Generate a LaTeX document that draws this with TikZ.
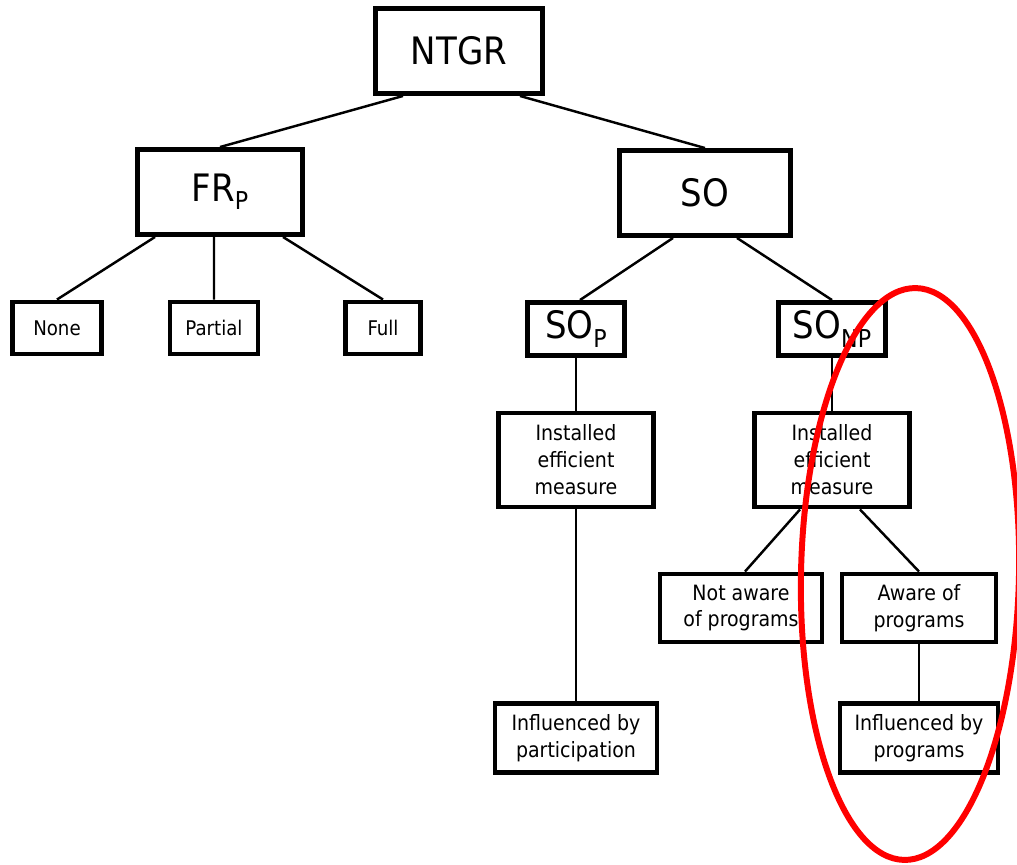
\documentclass[tikz,border=0pt]{standalone}
\usepackage{fontspec}
\setmainfont{DejaVu Sans Condensed}
\newcommand{\lowsub}[1]{\raisebox{-4.8pt}{\fontsize{14}{14}\selectfont #1}}

\begin{document}
\begin{tikzpicture}[line width=1.4pt, every node/.style={rectangle, draw, line width=2.8pt, align=center, inner sep=0pt},
	bigbox/.style={minimum height=1.70cm, font=\fontsize{21.5}{24}\selectfont},
	leafbox/.style={minimum height=1.04cm, font=\fontsize{11.5}{14}\selectfont},
	textbox/.style={font=\fontsize{12}{15.3}\selectfont}]
	\useasboundingbox (0,0) rectangle (20.34,-17.28);
	
	\node (1) at (9.18,-1.02) [bigbox, minimum width=3.34cm]{NTGR};
	\node (2) at (4.40,-3.84) [bigbox, minimum width=3.30cm]{FR\lowsub{P}};
	\node (3) at (14.10,-3.86) [bigbox, minimum width=3.42cm]{SO};
	\node (4) at (1.14,-6.56) [leafbox, minimum width=1.78cm]{None};
	\node (5) at (4.28,-6.56) [leafbox, minimum width=1.76cm]{Partial};
	\node (6) at (7.66,-6.56) [leafbox, minimum width=1.50cm]{Full};
	\node (7) at (11.52,-6.58) [bigbox, minimum height=1.06cm, minimum width=1.94cm]{SO\lowsub{P}};
	\node (8) at (16.64,-6.58) [bigbox, minimum height=1.06cm, minimum width=2.14cm]{SO\lowsub{NP}};
	\node (9) at (11.52,-9.20) [textbox, minimum width=3.10cm, minimum height=1.88cm]{Installed\\efficient\\measure};
	\node (10) at (16.64,-9.20) [textbox, minimum width=3.10cm, minimum height=1.88cm]{Installed\\efficient\\measure};
	\node (11) at (14.82,-12.16) [textbox, minimum width=3.24cm, minimum height=1.36cm]{Not aware\\of programs};
	\node (12) at (18.38,-12.16) [textbox, minimum width=3.08cm, minimum height=1.36cm]{Aware of\\programs};
	\node (13) at (11.52,-14.76) [textbox, minimum width=3.24cm, minimum height=1.38cm]{Influenced by\\participation};
	\node (14) at (18.38,-14.76) [textbox, minimum width=3.16cm, minimum height=1.38cm]{Influenced by\\programs};
	
	\draw ([xshift=-1.12cm]1.south) -- (2.north);
	\draw ([xshift=1.22cm]1.south) -- (3.north);
	\draw ([xshift=-1.30cm]2.south) -- (4.north);
	\draw ([xshift=-0.12cm]2.south) -- (5.north);
	\draw ([xshift=1.26cm]2.south) -- (6.north);
	\draw ([xshift=-0.64cm]3.south) -- ([xshift=0.08cm]7.north);
	\draw ([xshift=0.64cm]3.south) -- (8.north);
	\draw (7) -- (9);
	\draw (8) -- (10);
	\draw (9) -- (13);
	\draw ([xshift=-0.64cm]10.south) -- ([xshift=0.08cm]11.north);
	\draw ([xshift=0.56cm]10.south) -- (12.north);
	\draw (12) -- (14);
	
	% highlight
	\draw [red, line width=3.4pt, rotate around={-1.2:(18.2,-11.48)}] (18.2,-11.48) ellipse (2.18cm and 5.72cm);
	
	\end{tikzpicture}
\end{document}
